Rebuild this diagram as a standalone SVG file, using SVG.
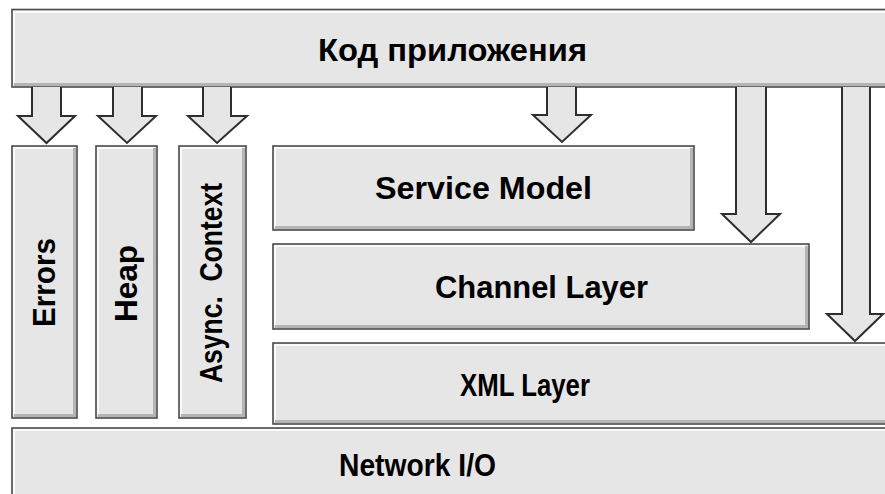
<svg xmlns="http://www.w3.org/2000/svg" width="885" height="494" viewBox="0 0 885 494">
  <style>
    .box { fill: #e6e6e6; stroke: #4a4a4a; stroke-width: 1.6; }
    .hi { fill: none; stroke: #fafafa; stroke-width: 2; }
    .sh { fill: none; stroke: #b4b4b4; stroke-width: 3; }
    .arrow { fill: #e6e6e6; stroke: #2e2e2e; stroke-width: 2; stroke-linejoin: miter; }
    .arrow-hi { fill: none; stroke: #fafafa; stroke-width: 1.5; }
    .lbl { font-family: "Liberation Sans", Arial, sans-serif; font-weight: bold; font-size: 32px; fill: #000; text-anchor: middle; }
  </style>

  <rect width="885" height="494" fill="#ffffff"/>

  <!-- Application code (top band) -->
  <g id="app-code">
    <rect class="box" x="12" y="9.5" width="880" height="77.5"/>
    <polyline class="hi" points="14,84 14,12 890,12"/>
    <polyline class="sh" points="14,84.5 890,84.5"/>
    <text class="lbl" x="452.5" y="61" textLength="269" lengthAdjust="spacingAndGlyphs">Код приложения</text>
  </g>

  <!-- Vertical side columns -->
  <g id="errors">
    <rect class="box" x="12" y="146" width="65" height="272"/>
    <polyline class="hi" points="14,415 14,148 74,148"/>
    <polyline class="sh" points="14,415.5 74.5,415.5 74.5,148"/>
    <text class="lbl" transform="translate(55,282.5) rotate(-90)" textLength="89" lengthAdjust="spacingAndGlyphs">Errors</text>
  </g>
  <g id="heap">
    <rect class="box" x="96" y="146" width="61" height="272"/>
    <polyline class="hi" points="98,415 98,148 154,148"/>
    <polyline class="sh" points="98,415.5 154.5,415.5 154.5,148"/>
    <text class="lbl" transform="translate(137,283.5) rotate(-90)" textLength="77" lengthAdjust="spacingAndGlyphs">Heap</text>
  </g>
  <g id="async-context">
    <rect class="box" x="179" y="146" width="67" height="272"/>
    <polyline class="hi" points="181,415 181,148 243,148"/>
    <polyline class="sh" points="181,415.5 243.5,415.5 243.5,148"/>
    <text class="lbl" transform="translate(222,283) rotate(-90)" textLength="200" lengthAdjust="spacingAndGlyphs" xml:space="preserve">Async.  Context</text>
  </g>

  <!-- Protocol stack -->
  <g id="service-model">
    <rect class="box" x="273" y="146" width="421" height="84"/>
    <polyline class="hi" points="275,227 275,148 691,148"/>
    <polyline class="sh" points="275,227.5 691.5,227.5 691.5,148"/>
    <text class="lbl" x="483.5" y="199" textLength="217" lengthAdjust="spacingAndGlyphs">Service Model</text>
  </g>
  <g id="channel-layer">
    <rect class="box" x="273" y="244" width="536" height="85"/>
    <polyline class="hi" points="275,326 275,246 806,246"/>
    <polyline class="sh" points="275,326.5 806.5,326.5 806.5,246"/>
    <text class="lbl" x="541.5" y="298" textLength="213" lengthAdjust="spacingAndGlyphs">Channel Layer</text>
  </g>
  <g id="xml-layer">
    <rect class="box" x="273" y="343" width="620" height="81"/>
    <polyline class="hi" points="275,421 275,345 890,345"/>
    <polyline class="sh" points="275,421.5 890,421.5"/>
    <text class="lbl" x="525" y="396" textLength="130" lengthAdjust="spacingAndGlyphs">XML Layer</text>
  </g>
  <g id="network-io">
    <rect class="box" x="12" y="428" width="880" height="72"/>
    <polyline class="hi" points="14,496 14,430 890,430"/>
    <text class="lbl" x="417.5" y="476" textLength="157" lengthAdjust="spacingAndGlyphs">Network I/O</text>
  </g>

  <!-- Block arrows from the application code down to each layer -->
  <g id="connectors">
    <path class="arrow" d="M32,87 L32,116 L18,116 L46.5,143 L75,116 L61,116 L61,87"/>
    <path class="arrow" d="M113,87 L113,116 L98,116 L127,143 L156,116 L142,116 L142,87"/>
    <path class="arrow" d="M203,87 L203,116 L188,116 L217,143 L247,116 L231,116 L231,87"/>
    <path class="arrow" d="M547,87 L547,115 L533,115 L562,142 L591,115 L576,115 L576,87"/>
    <path class="arrow" d="M736,87 L736,214 L722,214 L751,242 L780,214 L766,214 L766,87"/>
    <path class="arrow" d="M842,87 L842,314 L827,314 L855,341 L883,314 L870,314 L870,87"/>
  </g>
</svg>
